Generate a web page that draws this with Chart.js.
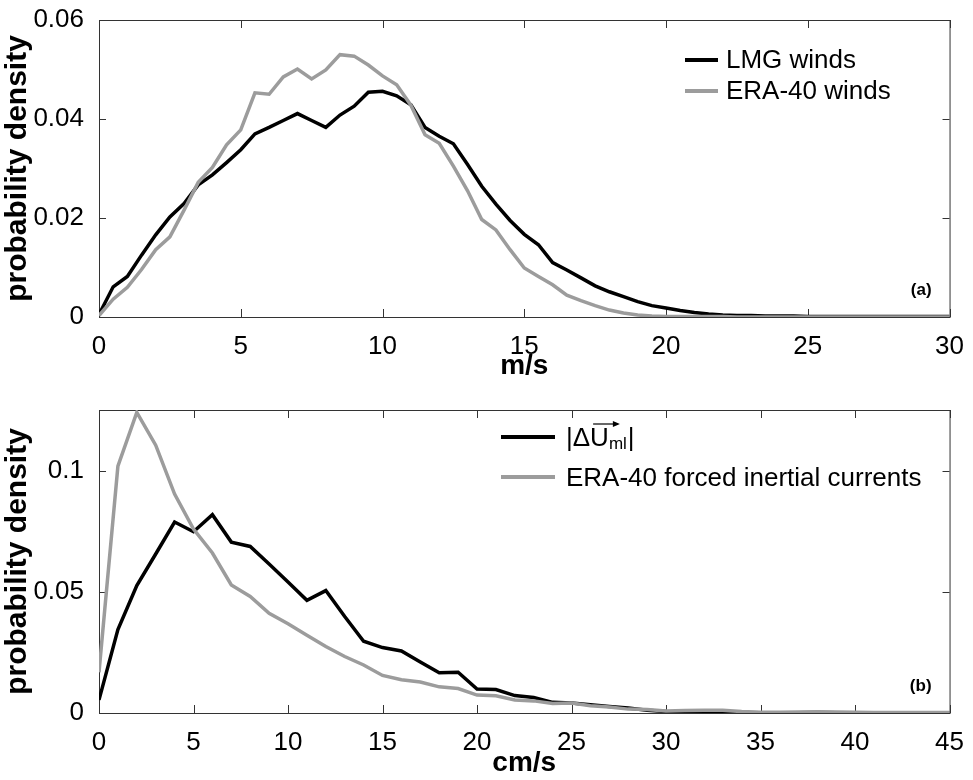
<!DOCTYPE html>
<html>
<head>
<meta charset="utf-8">
<script src="https://cdn.jsdelivr.net/npm/chart.js@4.4.1/dist/chart.umd.min.js"></script>
<style>
  body { margin: 0; background: #fff; }
  .panel { position: absolute; left: 0; width: 973px; height: 390px; }
</style>
</head>
<body>
<div class="panel" style="top:0"><canvas id="chart-a"></canvas></div>
<div class="panel" style="top:390px"><canvas id="chart-b"></canvas></div>
<script>
// panel (a): wind speed pdfs
const windSpeeds = [
  0, 0.5, 1, 1.5, 2, 2.5, 3, 3.5, 4, 4.5, 5, 5.5, 6, 6.5, 7, 7.5, 8, 8.5, 9, 9.5,
  10, 10.5, 11, 11.5, 12, 12.5, 13, 13.5, 14, 14.5, 15, 15.5, 16, 16.5, 17, 17.5, 18, 18.5, 19, 19.5,
  20, 20.5, 21, 21.5, 22, 22.5, 23, 23.5, 24, 24.5, 25, 25.5, 26, 26.5, 27, 27.5, 28, 28.5, 29, 29.5, 30
];
const lmgWinds = [
  0.0005, 0.0061, 0.0082, 0.0125, 0.0166, 0.0202, 0.0229, 0.0267, 0.0287, 0.0312,
  0.0338, 0.0370, 0.0383, 0.0397, 0.0411, 0.0397, 0.0383, 0.0408, 0.0426, 0.0454,
  0.0456, 0.0447, 0.0429, 0.0383, 0.0365, 0.0350, 0.0308, 0.0264, 0.0228, 0.0195,
  0.0167, 0.0146, 0.0110, 0.0095, 0.0079, 0.0063, 0.0051, 0.0041, 0.0031, 0.0023,
  0.0018, 0.0013, 0.0009, 0.0006, 0.0004, 0.0003, 0.0003, 0.0002, 0.0002, 0.0002,
  0.0001, 0.0001, 0.0001, 0.0001, 0.0001, 0.0001, 0.0001, 0.0001, 0.0001, 0.0001, 0.0001
];
const eraWinds = [
  0.0003, 0.0036, 0.0060, 0.0096, 0.0136, 0.0162, 0.0216, 0.0272, 0.0302, 0.0348,
  0.0378, 0.0453, 0.0450, 0.0485, 0.0501, 0.0481, 0.0499, 0.0530, 0.0527, 0.0509,
  0.0487, 0.0469, 0.0428, 0.0368, 0.0351, 0.0305, 0.0255, 0.0197, 0.0176, 0.0136,
  0.0099, 0.0082, 0.0065, 0.0044, 0.0033, 0.0023, 0.0014, 0.0008, 0.0004, 0.0002,
  0.0001, 0.0001, 0.0001, 0.0001, 0.0001, 0, 0, 0, 0, 0,
  0, 0, 0, 0, 0, 0, 0, 0, 0, 0, 0
];
const windTicksX = [0, 5, 10, 15, 20, 25, 30];
const windTicksY = [0, 0.02, 0.04, 0.06];

// panel (b): current speed pdfs
const currentSpeeds = [
  0, 1, 2, 3, 4, 5, 6, 7, 8, 9, 10, 11, 12, 13, 14, 15, 16, 17, 18, 19, 20, 21, 22,
  23, 24, 25, 26, 27, 28, 29, 30, 31, 32, 33, 34, 35, 36, 37, 38, 39, 40, 41, 42, 43, 44, 45
];
const deltaUml = [
  0.0054, 0.0344, 0.0526, 0.0656, 0.0788, 0.0748, 0.0818, 0.0705, 0.0687, 0.0615,
  0.0540, 0.0465, 0.0505, 0.0398, 0.0296, 0.0270, 0.0256, 0.0210, 0.0166, 0.0168,
  0.0099, 0.0097, 0.0072, 0.0064, 0.0044, 0.0041, 0.0034, 0.0027, 0.0021, 0.0011,
  0.0006, 0.0005, 0.0004, 0.0003, 0.0002, 0.0001, 0.0001, 0.0001, 0.0002, 0.0001,
  0.0001, 0.0001, 0.0001, 0.0001, 0.0001, 0.0001
];
const eraCurrents = [
  0.0168, 0.1018, 0.1240, 0.1105, 0.0903, 0.0759, 0.0660, 0.0528, 0.0481, 0.0411,
  0.0368, 0.0321, 0.0274, 0.0233, 0.0198, 0.0155, 0.0137, 0.0128, 0.0108, 0.0101,
  0.0074, 0.0071, 0.0054, 0.0050, 0.0039, 0.0041, 0.0030, 0.0025, 0.0016, 0.0014,
  0.0008, 0.0010, 0.0011, 0.0011, 0.0006, 0.0003, 0.0003, 0.0004, 0.0005, 0.0004,
  0.0003, 0.0002, 0.0002, 0.0002, 0.0002, 0.0002
];
const currentTicksX = [0, 5, 10, 15, 20, 25, 30, 35, 40, 45];
const currentTicksY = [0, 0.05, 0.1];

const FONT = "'Liberation Sans', Arial, Helvetica, sans-serif";
const GREY = '#9c9c9c';

Chart.defaults.font.family = FONT;
Chart.defaults.color = '#000';

function toPoints(xs, ys) {
  return xs.map((x, i) => ({ x: x, y: ys[i] }));
}

// axes box with MATLAB-style inward ticks
const boxPlugin = {
  id: 'box',
  beforeDatasetsDraw(chart) {
    const { ctx, chartArea } = chart;
    const { left, right, top, bottom } = chartArea;
    const xs = chart.scales.x;
    const ys = chart.scales.y;
    ctx.save();
    ctx.strokeStyle = '#333';
    ctx.lineWidth = 1;
    ctx.strokeRect(left + 0.5, top + 0.5, right - left, bottom - top);
    ctx.beginPath();
    xs.ticks.forEach(t => {
      const px = Math.round(xs.getPixelForValue(t.value)) + 0.5;
      ctx.moveTo(px, bottom);
      ctx.lineTo(px, bottom - 8);
      ctx.moveTo(px, top);
      ctx.lineTo(px, top + 8);
    });
    ys.ticks.forEach(t => {
      const py = Math.round(ys.getPixelForValue(t.value)) + 0.5;
      ctx.moveTo(left, py);
      ctx.lineTo(left + 7, py);
      ctx.moveTo(right, py);
      ctx.lineTo(right - 7, py);
    });
    ctx.stroke();
    ctx.restore();
  }
};

function drawDeltaLabel(ctx, x, b) {
  ctx.font = '26px ' + FONT;
  ctx.fillText('|', x, b);
  x += ctx.measureText('|').width;
  ctx.fillText('\u0394', x, b);
  x += ctx.measureText('\u0394').width;
  const ux = x;
  ctx.fillText('U', x, b);
  const uw = ctx.measureText('U').width;
  x += uw;
  // vector arrow over U
  const ay = b - 22;
  ctx.beginPath();
  ctx.lineWidth = 1.2;
  ctx.moveTo(ux + 3, ay);
  ctx.lineTo(ux + uw + 9, ay);
  ctx.stroke();
  ctx.beginPath();
  ctx.moveTo(ux + uw + 11, ay);
  ctx.lineTo(ux + uw + 4, ay - 3);
  ctx.lineTo(ux + uw + 4, ay + 3);
  ctx.closePath();
  ctx.fill();
  ctx.font = '17px ' + FONT;
  ctx.fillText('ml', x, b + 3);
  x += ctx.measureText('ml').width + 1;
  ctx.font = '26px ' + FONT;
  ctx.fillText('|', x, b);
}

// legend and panel letter drawn inside the axes
const insidePlugin = {
  id: 'inside',
  afterDraw(chart, args, opts) {
    const ctx = chart.ctx;
    ctx.save();
    opts.items.forEach((item, i) => {
      const y = opts.firstY + i * opts.rowGap;
      ctx.strokeStyle = item.color;
      ctx.lineWidth = 4;
      ctx.beginPath();
      ctx.moveTo(opts.lineFrom, y);
      ctx.lineTo(opts.lineTo, y);
      ctx.stroke();
      ctx.fillStyle = '#000';
      ctx.strokeStyle = '#000';
      ctx.textAlign = 'left';
      ctx.textBaseline = 'alphabetic';
      if (item.rich) {
        drawDeltaLabel(ctx, opts.textX, y + opts.textDy);
      } else {
        ctx.font = '26px ' + FONT;
        ctx.fillText(item.text, opts.textX, y + opts.textDy);
      }
    });
    ctx.font = 'bold 17px ' + FONT;
    ctx.textAlign = 'right';
    ctx.fillStyle = '#000';
    ctx.fillText(opts.letter, chart.chartArea.right - 18, chart.chartArea.bottom - 22);
    ctx.restore();
  }
};

function makeChart(canvasId, p) {
  const config = {
    type: 'line',
    data: {
      datasets: [
        {
          label: p.labels[0],
          data: toPoints(p.xs, p.black),
          borderColor: '#000',
          borderWidth: 3.5,
          pointRadius: 0,
          order: 1
        },
        {
          label: p.labels[1],
          data: toPoints(p.xs, p.grey),
          borderColor: GREY,
          borderWidth: 3.5,
          pointRadius: 0,
          order: 0
        }
      ]
    },
    options: {
      responsive: true,
      maintainAspectRatio: false,
      animation: false,
      layout: { padding: { top: 15, right: 22, bottom: p.padBottom, left: 0 } },
      plugins: {
        legend: { display: false },
        tooltip: { enabled: false },
        inside: p.inside
      },
      scales: {
        x: {
          type: 'linear',
          min: p.xTicks[0],
          max: p.xTicks[p.xTicks.length - 1],
          grid: { display: false },
          border: { display: false },
          afterBuildTicks: s => { s.ticks = p.xTicks.map(v => ({ value: v })); },
          afterFit: s => { s.height = p.xHeight; },
          ticks: {
            autoSkip: false,
            maxRotation: 0,
            padding: 9,
            font: { size: 26, lineHeight: 1 },
            callback: v => String(v)
          },
          title: {
            display: true,
            text: p.xTitle,
            font: { size: 28, weight: 'bold' },
            padding: { top: 0, bottom: 0 }
          }
        },
        y: {
          min: 0,
          max: p.yMax,
          grid: { display: false },
          border: { display: false },
          afterBuildTicks: s => { s.ticks = p.yTicks.map(v => ({ value: v })); },
          afterFit: s => { s.width = 99; },
          ticks: {
            padding: 7,
            font: { size: 26, lineHeight: 1 },
            callback: v => String(v)
          },
          title: {
            display: true,
            text: 'probability density',
            font: { size: 30, weight: 'bold' },
            padding: { top: 0, bottom: 0 }
          }
        }
      }
    },
    plugins: [boxPlugin, insidePlugin]
  };
  return new Chart(document.getElementById(canvasId), config);
}

makeChart('chart-a', {
  xs: windSpeeds,
  black: lmgWinds,
  grey: eraWinds,
  labels: ['LMG winds', 'ERA-40 winds'],
  xTicks: windTicksX,
  yTicks: windTicksY,
  yMax: 0.06,
  xTitle: 'm/s',
  xHeight: 66,
  padBottom: 7,
  inside: {
    items: [{ color: '#000', text: 'LMG winds' }, { color: GREY, text: 'ERA-40 winds' }],
    lineFrom: 685, lineTo: 718, textX: 726, firstY: 60, rowGap: 31, textDy: 8,
    letter: '(a)'
  }
});

makeChart('chart-b', {
  xs: currentSpeeds,
  black: deltaUml,
  grey: eraCurrents,
  labels: ['|\u0394U_ml|', 'ERA-40 forced inertial currents'],
  xTicks: currentTicksX,
  yTicks: currentTicksY,
  yMax: 0.125,
  xTitle: 'cm/s',
  xHeight: 67,
  padBottom: 0,
  inside: {
    items: [{ color: '#000', rich: true }, { color: GREY, text: 'ERA-40 forced inertial currents' }],
    lineFrom: 501, lineTo: 555, textX: 566, firstY: 47, rowGap: 40, textDy: 9,
    letter: '(b)'
  }
});
</script>
</body>
</html>
